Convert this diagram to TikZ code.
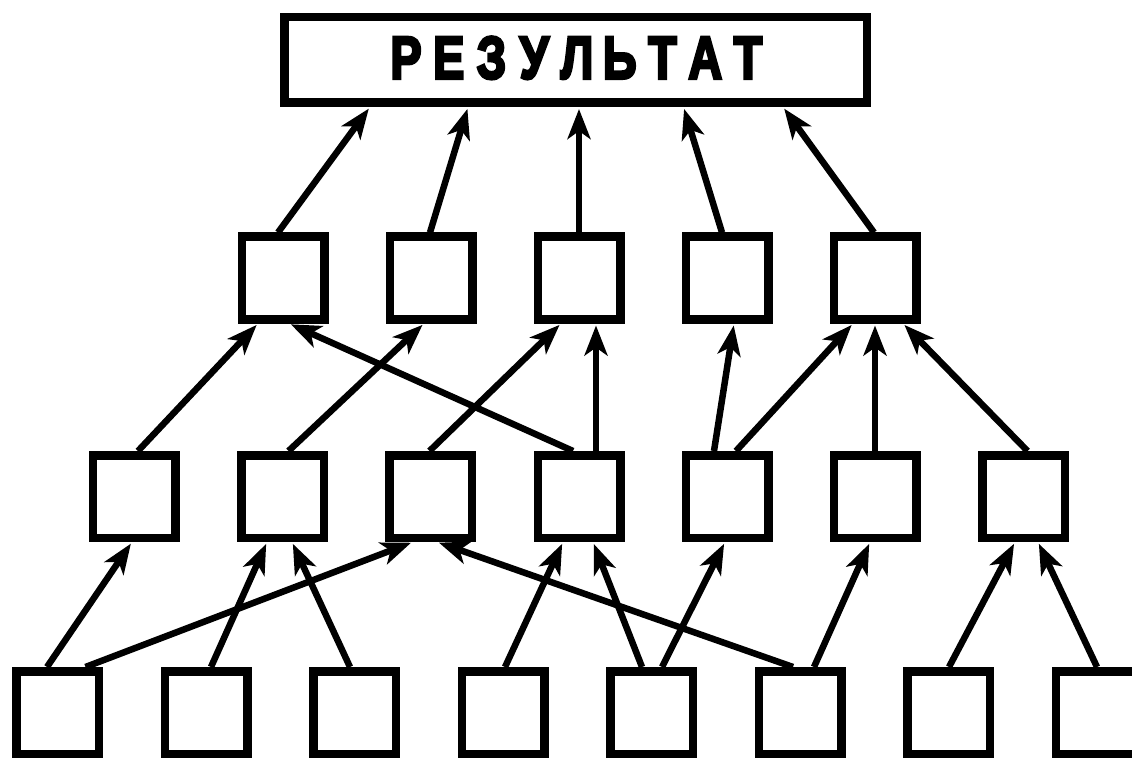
\documentclass[tikz,border=0pt]{standalone}
\usepackage{fontspec}
\usepackage{graphicx}
\usetikzlibrary{arrows.meta}
\newfontfamily\titlefont[FakeBold=5]{Liberation Sans}
\newcommand\lettercell[1]{\makebox[42.75pt]{\scalebox{0.78}[1]{#1}}}
\tikzset{
  box/.style={draw, line width=8.5pt, minimum size=82.5pt, inner sep=0pt},
  topbox/.style={draw, line width=8.5pt, minimum width=582.5pt, minimum height=85.5pt, inner sep=0pt},
  arr/.style={line width=6.5pt, -{Stealth[length=30pt,width=23pt,inset=8pt]}, shorten >=2pt}
}
\begin{document}
\begin{tikzpicture}[x=1pt,y=-1pt]
\path[use as bounding box] (0,0) rectangle (1132,759);
% top box
\node[topbox] (T) at (575.5,60) {};
\node[anchor=base, inner sep=0pt] (txt) at (577,78.5) {\titlefont\bfseries\fontsize{60}{60}\selectfont
  \lettercell{Р}\lettercell{Е}\lettercell{З}\lettercell{У}\lettercell{Л}\lettercell{Ь}\lettercell{Т}\lettercell{А}\lettercell{Т}};
% level 2
\node[box] (A) at (283,278) {};
\node[box] (B) at (431,278) {};
\node[box] (C) at (579,278) {};
\node[box] (D) at (727,278) {};
\node[box] (E) at (875,278) {};
% level 3
\node[box] (P1) at (134,496.5) {};
\node[box] (P2) at (282.5,496.5) {};
\node[box] (P3) at (430.5,496.5) {};
\node[box] (P4) at (579,496.5) {};
\node[box] (P5) at (727,496.5) {};
\node[box] (P6) at (875,496.5) {};
\node[box] (P7) at (1023.5,496.5) {};
% level 4
\node[box] (Q1) at (57.5,712.5) {};
\node[box] (Q2) at (206,712.5) {};
\node[box] (Q3) at (354.5,712.5) {};
\node[box] (Q4) at (503,712.5) {};
\node[box] (Q5) at (651.5,712.5) {};
\node[box] (Q6) at (800,712.5) {};
\node[box] (Q7) at (948.5,712.5) {};
\node[box] (Q8) at (1097,712.5) {};
% level 2 -> top
\draw[arr] ([xshift=-5]A.north) -- ([xshift=-205.5]T.south);
\draw[arr] ([xshift=-1]B.north) -- ([xshift=-107.5]T.south);
\draw[arr] (C.north) -- ([xshift=3.5]T.south);
\draw[arr] ([xshift=-5]D.north) -- ([xshift=108]T.south);
\draw[arr] ([xshift=-1]E.north) -- ([xshift=207.5]T.south);
% level 3 -> level 2
\draw[arr] ([xshift=4]P1.north) -- ([xshift=-25]A.south);
\draw[arr] ([xshift=6]P2.north) -- ([xshift=-7]B.south);
\draw[arr] ([xshift=-1]P3.north) -- ([xshift=-18]C.south);
\draw[arr] ([xshift=-6]P4.north) -- ([xshift=6]A.south);
\draw[arr] ([xshift=17]P4.north) -- ([xshift=17]C.south);
\draw[arr] ([xshift=-13]P5.north) -- ([xshift=7]D.south);
\draw[arr] ([xshift=9]P5.north) -- ([xshift=-22]E.south);
\draw[arr] (P6.north) -- (E.south);
\draw[arr] ([xshift=4]P7.north) -- ([xshift=28]E.south);
% level 4 -> level 3
\draw[arr] ([xshift=-10.5]Q1.north) -- ([xshift=-2]P1.south);
\draw[arr] ([xshift=28]Q1.north) -- ([xshift=-17.5]P3.south);
\draw[arr] ([xshift=5]Q2.north) -- ([xshift=-15.5]P2.south);
\draw[arr] ([xshift=-4.5]Q3.north) -- ([xshift=9.5]P2.south);
\draw[arr] ([xshift=2]Q4.north) -- ([xshift=-16]P4.south);
\draw[arr] ([xshift=-9.5]Q5.north) -- ([xshift=14]P4.south);
\draw[arr] ([xshift=10.5]Q5.north) -- ([xshift=-2]P5.south);
\draw[arr] ([xshift=-7]Q6.north) -- ([xshift=6.5]P3.south);
\draw[arr] ([xshift=14]Q6.north) -- ([xshift=-5]P6.south);
\draw[arr] ([xshift=0.5]Q7.north) -- ([xshift=-8.5]P7.south);
\draw[arr] ([xshift=0]Q8.north) -- ([xshift=14.5]P7.south);
\end{tikzpicture}
\end{document}
